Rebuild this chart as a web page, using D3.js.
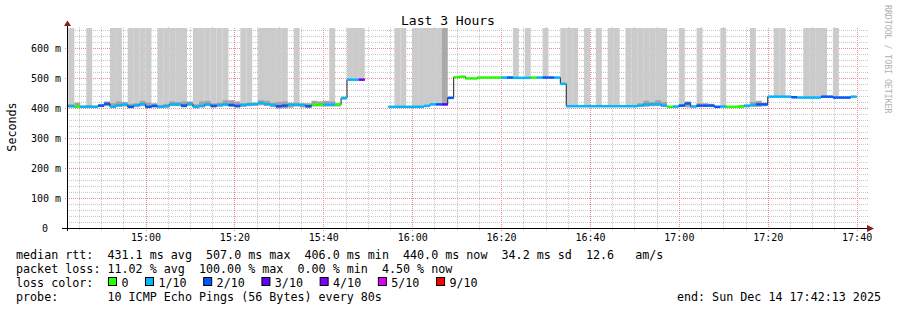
<!DOCTYPE html>
<meta charset="utf-8">
<style>
    body { margin: 0; background: #fff; }
    svg { display: block; }
    text { font-family: "DejaVu Sans Mono", monospace; white-space: pre; fill: #000; }
</style>
<body>
<script src="https://cdn.jsdelivr.net/npm/d3@7"></script>
<script>

// one sample every 80s, first one starts 60s before the graph start
var median = [408,408,406,406,406,406,410,416,406,411,413,406,411,415,406,409,406,408,414,414,
              410,416,406,409,414,409,412,414,412,409,412,414,415,419,415,412,408,410,413,413,
              412,408,413,413,413,413,413,435,497,497,497,null,null,null,null,406,406,406,406,406,
              406,409,414,414,414,436,505,507,501,501,504,504,504,504,504,504,503,503,503,504,
              504,504,504,504,483,408,408,408,408,408,408,408,408,408,408,408,408,410,414,414,
              415,410,406,407,410,417,407,410,410,410,406,407,406,406,406,409,412,414,414,440,
              440,440,440,438,437,437,437,437,440,440,437,437,437,440,null,null];

var loss = [1,1,0,1,1,1,2,2,1,1,1,2,1,1,2,2,1,1,1,1,
            2,1,1,1,1,2,1,1,2,2,1,1,1,1,1,1,2,2,1,1,
            1,2,0,0,1,1,0,1,1,1,4,0,0,0,0,1,1,1,1,1,
            1,1,1,2,3,2,0,0,0,0,0,0,0,0,1,2,1,1,1,0,
            1,2,2,1,1,1,1,1,1,1,1,1,1,1,1,1,1,1,1,1,
            1,1,0,1,2,2,1,2,2,2,2,1,0,0,0,1,1,2,2,1,
            1,1,1,2,1,1,1,1,2,2,2,2,2,1,0,0];

var smokeLo = [404,404,403,403,403,403,406,408,403,406,407,401,405,408,402,404,402,403,408,408,
               404,409,401,404,408,404,406,408,406,403,406,408,409,411,409,405,400,401,403,407,
               404,402,407,407,407,407,407,431,495,495,495,null,null,null,null,404,404,404,404,404,
               404,407,412,412,411,434,503,505,499,499,502,502,502,502,502,502,501,501,501,502,
               502,502,502,502,481,406,406,406,406,406,406,406,406,406,406,406,406,407,406,408,
               408,406,404,404,406,404,404,406,406,406,403,404,403,403,403,405,406,406,408,438,
               438,438,438,436,435,435,435,435,438,438,435,435,435,438,null,null];

var smokeHi = [416,414,420,410,412,410,414,424,418,424,422,416,418,426,420,418,412,416,424,422,
               424,424,414,424,426,418,420,428,428,424,418,420,420,428,426,420,422,424,420,420,
               418,418,426,424,426,424,418,440,499,499,499,null,null,null,null,407,407,407,407,407,
               407,411,416,416,416,438,507,509,503,503,506,506,506,506,506,506,505,505,505,506,
               506,506,506,506,485,410,410,410,410,410,410,410,410,410,410,410,410,418,426,422,
               428,422,408,409,414,424,410,418,418,416,408,409,408,408,412,414,422,426,420,442,
               442,442,442,440,439,439,439,439,442,442,439,439,439,442,null,null];

// slow pings above the top of the graph: 0 none, 1 light, 2 darker
var spike = [1,1,0,0,1,0,0,0,1,1,0,1,1,1,1,0,1,1,1,1,
             1,0,1,1,1,1,1,1,0,0,1,1,0,1,1,1,1,1,0,1,
             0,0,0,0,0,1,0,0,1,1,1,0,0,0,0,0,1,1,0,1,
             1,1,1,1,2,0,0,0,0,0,0,0,0,0,0,0,1,0,1,0,
             0,1,0,0,1,1,1,0,1,0,1,0,1,1,0,1,1,1,1,1,
             1,1,0,0,1,0,0,1,0,0,0,1,0,0,0,0,1,0,0,0,
             1,1,0,0,0,1,1,1,1,0,1,0,0,0,0,0];

var lossLabels = ["0", "1/10", "2/10", "3/10", "4/10", "5/10", "9/10"];
var lossColors = ["#26ff00", "#00b8ff", "#0059ff", "#5e00ff", "#7e00ff", "#dd00ff", "#ff0000"];
var yTicks = [0, 100, 200, 300, 400, 500, 600];

var legendMedian = "median rtt:  431.1 ms avg  507.0 ms max  406.0 ms min  440.0 ms now  34.2 ms sd  12.6   am/s";
var legendLoss   = "packet loss: 11.02 % avg  100.00 % max  0.00 % min  4.50 % now";
var legendProbe  = "probe:       10 ICMP Echo Pings (56 Bytes) every 80s";
var legendEnd    = "end: Sun Dec 14 17:42:13 2025";

var t0 = new Date(2025, 11, 14, 14, 42, 13),
    t1 = new Date(2025, 11, 14, 17, 42, 13),
    firstSample = new Date(2025, 11, 14, 14, 41, 13),
    step = 80 * 1000;

var svgW = 897, svgH = 310,
    pLeft = 67, pRight = 867, pTop = 28, pBottom = 228;

var svg = d3.select("body").append("svg")
    .attr("width", svgW)
    .attr("height", svgH);

var x = d3.scaleTime().domain([t0, t1]).range([pLeft, pRight]);
var y = d3.scaleLinear().domain([0, 670]).range([pBottom, pTop]);

function lossColor(l) {
  if (l === 0) return lossColors[0];
  if (l <= 4) return lossColors[l];
  if (l <= 8) return lossColors[5];
  return lossColors[6];
}

// snap to pixel centre so 1px dotted lines stay sharp
function px(v) { return Math.floor(v) + 0.5; }

var samples = median.map(function(m, i) {
  var s = new Date(firstSample.getTime() + i * step);
  return {start: s, end: new Date(s.getTime() + step), median: m, loss: loss[i],
          lo: smokeLo[i], hi: smokeHi[i], spike: spike[i]};
});
var valid = samples.filter(function(d) { return d.median != null; });

// grid
var grid = svg.append("g");
var minorY = d3.range(20, 670, 20).filter(function(v) { return v % 100 !== 0; });
grid.selectAll(".hmin").data(minorY).enter().append("line")
    .attr("x1", pLeft).attr("x2", 869)
    .attr("y1", function(d) { return px(y(d)); })
    .attr("y2", function(d) { return px(y(d)); })
    .attr("stroke", "#c8c8c8").attr("stroke-dasharray", "1,1");
var minorX = x.ticks(d3.timeMinute.every(5)).filter(function(d) { return d.getMinutes() % 20 !== 0; });
grid.selectAll(".vmin").data(minorX).enter().append("line")
    .attr("x1", function(d) { return px(x(d)); })
    .attr("x2", function(d) { return px(x(d)); })
    .attr("y1", pBottom + 2).attr("y2", pTop - 1)
    .attr("stroke", "#c8c8c8").attr("stroke-dasharray", "1,1");
grid.selectAll(".hmaj").data(yTicks.slice(1)).enter().append("line")
    .attr("x1", pLeft - 2).attr("x2", 869)
    .attr("y1", function(d) { return px(y(d)); })
    .attr("y2", function(d) { return px(y(d)); })
    .attr("stroke", "#ec8c8c").attr("stroke-dasharray", "1,1");
var majorX = x.ticks(d3.timeMinute.every(20));
grid.selectAll(".vmaj").data(majorX).enter().append("line")
    .attr("x1", function(d) { return px(x(d)); })
    .attr("x2", function(d) { return px(x(d)); })
    .attr("y1", pBottom + 3).attr("y2", pTop - 1)
    .attr("stroke", "#ec8c8c").attr("stroke-dasharray", "1,1");

// data
svg.append("clipPath").attr("id", "plot")
  .append("rect").attr("x", pLeft).attr("y", pTop).attr("width", pRight - pLeft).attr("height", pBottom - pTop);
var plot = svg.append("g").attr("clip-path", "url(#plot)");

plot.selectAll(".spike").data(valid.filter(function(d) { return d.spike > 0; }))
  .enter().append("rect")
    .attr("x", function(d) { return x(d.start); })
    .attr("width", function(d) { return x(d.end) - x(d.start); })
    .attr("y", pTop)
    .attr("height", function(d) { return y(d.median) - pTop; })
    .attr("fill", function(d) { return d.spike === 2 ? "#a9a9a9" : "#cbcbcb"; });

plot.selectAll(".smoke").data(valid)
  .enter().append("rect")
    .attr("x", function(d) { return x(d.start); })
    .attr("width", function(d) { return x(d.end) - x(d.start); })
    .attr("y", function(d) { return y(d.hi); })
    .attr("height", function(d) { return y(d.lo) - y(d.hi); })
    .attr("fill", "#a2a2a2");

var pts = [];
samples.forEach(function(d) {
  pts.push({t: d.start, v: d.median});
  pts.push({t: d.end, v: d.median});
});
var line = d3.line()
    .defined(function(d) { return d.v != null; })
    .x(function(d) { return x(d.t); })
    .y(function(d) { return y(d.v); });
plot.append("path").datum(pts)
    .attr("d", line)
    .attr("fill", "none")
    .attr("stroke", "#202020")
    .attr("stroke-width", 1);

plot.selectAll(".med").data(valid)
  .enter().append("rect")
    .attr("x", function(d) { return x(d.start); })
    .attr("width", function(d) { return x(d.end) - x(d.start); })
    .attr("y", function(d) { return y(d.median) - 1.25; })
    .attr("height", 2.5)
    .attr("fill", function(d) { return lossColor(d.loss); });

// axes
svg.append("path").attr("d", "M62," + (pBottom + 0.5) + "H869")
    .attr("stroke", "#000").attr("fill", "none");
svg.append("path").attr("d", "M" + (pLeft + 0.5) + "," + (pBottom + 3) + "V25")
    .attr("stroke", "#000").attr("fill", "none");
svg.append("path").attr("d", "M867,225L874,228.5L867,232Z").attr("fill", "#8b1a1a");
svg.append("path").attr("d", "M64,26L67.5,20.5L71,26Z").attr("fill", "#8b1a1a");

svg.selectAll(".xl").data(majorX).enter().append("text")
    .attr("x", function(d) { return x(d); })
    .attr("y", 241)
    .attr("text-anchor", "middle")
    .style("font-size", "10px")
    .text(d3.timeFormat("%H:%M"));

svg.selectAll(".yl").data(yTicks).enter().append("text")
    .attr("x", function(d) { return d === 0 ? 48 : 61; })
    .attr("y", function(d) { return y(d) + 3.5; })
    .attr("text-anchor", "end")
    .style("font-size", "10px")
    .text(function(d) { return d === 0 ? "0" : d + " m"; });

// labels
svg.append("text").attr("x", 448).attr("y", 24.5)
    .attr("text-anchor", "middle").style("font-size", "13px").text("Last 3 Hours");
svg.append("text").attr("transform", "translate(15.5,127) rotate(-90)")
    .attr("text-anchor", "middle").style("font-size", "11.7px").text("Seconds");
svg.append("text").attr("transform", "translate(885,5) rotate(90)")
    .style("font-size", "8.2px").style("fill", "#b0b0b0").text("RRDTOOL / TOBI OETIKER");

// legend
var lg = svg.append("g").style("font-size", "11.7px");
lg.append("text").attr("x", 16).attr("y", 258.5).text(legendMedian);
lg.append("text").attr("x", 16).attr("y", 272.5).text(legendLoss);
lg.append("text").attr("x", 16).attr("y", 286.5).text("loss color:");
lg.append("text").attr("x", 16).attr("y", 300.5).text(legendProbe);
lg.append("text").attr("x", 881).attr("y", 300.5).attr("text-anchor", "end").text(legendEnd);

var cw = 7.08, bx = 108;
lossLabels.forEach(function(lab, i) {
  lg.append("rect").attr("x", bx + 0.5).attr("y", 277.5).attr("width", 8).attr("height", 8)
      .attr("fill", lossColors[i]).attr("stroke", "#000");
  lg.append("text").attr("x", bx + 13.4).attr("y", 286.5).text(lab);
  bx = bx + 13.4 + lab.length * cw + 16.5;
});

</script>
</body>
